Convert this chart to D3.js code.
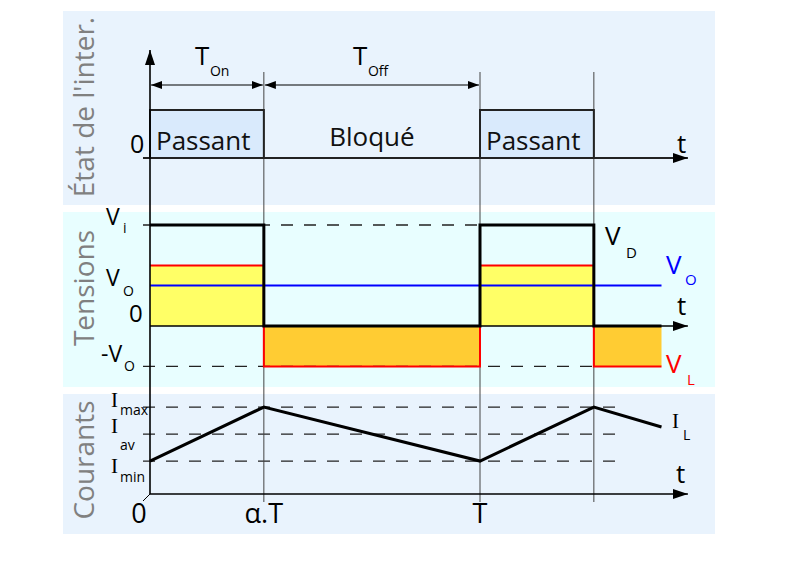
<!DOCTYPE html>
<html><head><meta charset="utf-8">
<script src="https://cdn.jsdelivr.net/npm/d3@7"></script>
<style>body{margin:0;background:#fff}svg{display:block}</style>
</head><body><svg id="c" width="800" height="566" font-family="'Open Sans', sans-serif"></svg>
<script>
// ---- data ----
const panelTitles = ["État de l'inter.", "Tensions", "Courants"];
const alpha = 0.345;
const switchTimes = [0, 0.345, 1, 1.345, 1.55];
const switchState = [1, 0, 1, 0];
const stateLabels = ["Passant", "Bloqué", "Passant", ""];
const gridTimes = [0.345, 1, 1.345];
const vdValues = [1, 0, 1, 0];
const vlValues = [0.6, -0.4, 0.6, -0.4];
const voValue = 0.4;
const viValue = 1;
const ilTimes = [0, 0.345, 1, 1.345, 1.55];
const ilValues = [1.22, 3.22, 1.22, 3.22, 2.48];
const currentLevelNames = ["max", "av", "min"];
const currentLevels = [3.22, 2.22, 1.22];
const xTickValues = [0, 0.345, 1];
const xTickLabels = ["0", "α.T", "T"];

// ---- scales ----
const x = d3.scaleLinear().domain([0, 1]).range([150, 480]);
const ySw = d3.scaleLinear().domain([0, 1]).range([158, 110]);
const yV = d3.scaleLinear().domain([0, 1]).range([326, 225]);
const yI = d3.scaleLinear().domain([0, 4]).range([494, 386]);
const tEnd = switchTimes[switchTimes.length - 1];
const axisEnd = 1.63;

const svg = d3.select("#c");
const defs = svg.append("defs");
function mk(id, w, h) {
  defs.append("marker").attr("id", id).attr("viewBox", `0 0 ${w} ${h}`)
    .attr("refX", w).attr("refY", h / 2).attr("markerWidth", w).attr("markerHeight", h)
    .attr("markerUnits", "userSpaceOnUse").attr("orient", "auto-start-reverse")
    .append("path").attr("d", `M0,0L${w},${h/2}L0,${h}Z`).attr("fill", "#000");
}
mk("big", 15, 10);
mk("small", 11, 8);

// panels
const panels = [
  {y0: 11, y1: 205, fill: "#e9f3fd", yc: 107},
  {y0: 212, y1: 387, fill: "#e8feff", yc: 288},
  {y0: 394, y1: 534, fill: "#e9f3fd", yc: 460}
];
svg.selectAll("rect.panel").data(panels).join("rect").attr("class", "panel")
  .attr("x", 63).attr("width", 652).attr("y", d => d.y0).attr("height", d => d.y1 - d.y0)
  .attr("fill", d => d.fill);
svg.selectAll("text.ptitle").data(panels).join("text").attr("class", "ptitle")
  .attr("transform", d => `translate(94,${d.yc}) rotate(-90)`)
  .attr("text-anchor", "middle").attr("font-size", 28).attr("fill", "#808080")
  .text((d, i) => panelTitles[i]);

const segs = switchState.map((s, i) => ({t0: switchTimes[i], t1: switchTimes[i + 1], s, vd: vdValues[i], vl: vlValues[i], label: stateLabels[i]}));

// ---- voltage fills ----
svg.selectAll("rect.vl").data(segs).join("rect").attr("class", "vl")
  .attr("x", d => x(d.t0)).attr("width", d => x(d.t1) - x(d.t0))
  .attr("y", d => Math.min(yV(d.vl), yV(0))).attr("height", d => Math.abs(yV(d.vl) - yV(0)))
  .attr("fill", d => d.vl > 0 ? "#ffff66" : "#ffcc33");

// dashed lines
const dash = "12,11";
const dashCol = "#222";
const dw = 1.3;
svg.append("line").attr("x1", x(0) - 7).attr("x2", x(1)).attr("y1", yV(viValue)).attr("y2", yV(viValue))
  .attr("stroke", dashCol).attr("stroke-width", dw).attr("stroke-dasharray", dash);
svg.append("line").attr("x1", x(0) - 7).attr("x2", x(1 + alpha)).attr("y1", yV(-voValue)).attr("y2", yV(-voValue))
  .attr("stroke", dashCol).attr("stroke-width", dw).attr("stroke-dasharray", dash);
svg.selectAll("line.il").data(currentLevels).join("line").attr("class", "il")
  .attr("x1", x(0) - 7).attr("x2", 622).attr("y1", d => yI(d)).attr("y2", d => yI(d))
  .attr("stroke", dashCol).attr("stroke-width", dw).attr("stroke-dasharray", dash);

// grid verticals
svg.selectAll("line.grid").data(gridTimes).join("line").attr("class", "grid")
  .attr("x1", d => x(d)).attr("x2", d => x(d)).attr("y1", 72).attr("y2", 502)
  .attr("stroke", "#444").attr("stroke-width", 1);

// ---- switch state ----
svg.selectAll("rect.sw").data(segs.filter(d => d.s === 1)).join("rect").attr("class", "sw")
  .attr("x", d => x(d.t0)).attr("width", d => x(d.t1) - x(d.t0))
  .attr("y", ySw(1)).attr("height", ySw(0) - ySw(1))
  .attr("fill", "#d9eafc").attr("stroke", "#222").attr("stroke-width", 2);
svg.append("line").attr("x1", x(0) - 7).attr("x2", x(axisEnd)).attr("y1", ySw(0)).attr("y2", ySw(0))
  .attr("stroke", "#222").attr("stroke-width", 2).attr("marker-end", "url(#big)");
svg.selectAll("text.st").data(segs).join("text").attr("class", "st")
  .attr("x", d => d.s ? x(d.t0) + 6 : (x(d.t0) + x(d.t1)) / 2)
  .attr("y", d => d.s ? 150 : 146)
  .attr("text-anchor", d => d.s ? "start" : "middle")
  .attr("font-size", 26).attr("fill", "#111").text(d => d.label);

// T_on / T_off arrows
const spans = [{a: 0, b: alpha, sub: "On"}, {a: alpha, b: 1, sub: "Off"}];
svg.selectAll("line.span").data(spans).join("line").attr("class", "span")
  .attr("x1", d => x(d.a) + 1).attr("x2", d => x(d.b) - 1).attr("y1", 85).attr("y2", 85)
  .attr("stroke", "#000").attr("stroke-width", 1.2)
  .attr("marker-start", "url(#small)").attr("marker-end", "url(#small)");
spans.forEach(d => {
  const cx = (x(d.a) + x(d.b)) / 2;
  svg.append("text").attr("x", cx - 7 - (d.sub === "Off" ? 12 : 5)).attr("y", 65).attr("font-size", 26).text("T");
  svg.append("text").attr("x", cx + 3 - (d.sub === "Off" ? 7 : 0)).attr("y", 76).attr("font-size", 14).text(d.sub);
});

// ---- voltages ----
svg.append("line").attr("x1", x(0)).attr("x2", x(tEnd)).attr("y1", yV(voValue)).attr("y2", yV(voValue))
  .attr("stroke", "#0000ff").attr("stroke-width", 2);
const step = d3.line().curve(d3.curveStepAfter).x(d => x(d[0])).y(d => yV(d[1]));
const vlPts = segs.map(d => [d.t0, d.vl]).concat([[tEnd, vlValues[vlValues.length - 1]]]);
svg.append("path").attr("d", step(vlPts)).attr("fill", "none").attr("stroke", "#ff0000").attr("stroke-width", 2);
svg.append("line").attr("x1", x(0)).attr("x2", x(axisEnd)).attr("y1", yV(0)).attr("y2", yV(0))
  .attr("stroke", "#000").attr("stroke-width", 1.3).attr("marker-end", "url(#big)");
const vdPts = segs.map(d => [d.t0, d.vd]).concat([[tEnd, vdValues[vdValues.length - 1]]]);
svg.append("path").attr("d", step(vdPts)).attr("fill", "none").attr("stroke", "#000").attr("stroke-width", 3);

// ---- current ----
svg.append("path").attr("d", d3.line().x((d, i) => x(ilTimes[i])).y(d => yI(d))(ilValues))
  .attr("fill", "none").attr("stroke", "#000").attr("stroke-width", 3);
svg.append("line").attr("x1", x(0)).attr("x2", x(axisEnd)).attr("y1", yI(0)).attr("y2", yI(0))
  .attr("stroke", "#000").attr("stroke-width", 1.3).attr("marker-end", "url(#big)");
svg.append("line").attr("x1", x(0) - 7).attr("x2", x(0)).attr("y1", yI(0) + 7).attr("y2", yI(0))
  .attr("stroke", "#000").attr("stroke-width", 1);

// vertical axis
svg.append("line").attr("x1", x(0)).attr("x2", x(0)).attr("y1", yI(0)).attr("y2", 50)
  .attr("stroke", "#000").attr("stroke-width", 1.6).attr("marker-end", "url(#big)");

// ---- labels ----
function lab(xx, yy, main, sub, opt) {
  opt = opt || {};
  const fs = opt.fs || 23, col = opt.col || "#000";
  const t = svg.append("text").attr("x", xx).attr("y", yy).attr("font-size", fs).attr("fill", col).text(main);
  if (opt.ff) t.attr("font-family", opt.ff);
  if (sub) svg.append("text").attr("x", opt.sx).attr("y", opt.sy).attr("font-size", opt.sfs || 14).attr("fill", col).text(sub);
}
lab(130, 153, "0", null, {fs: 25});
lab(677, 153, "t", null, {fs: 26});
lab(106, 225, "V", "i", {sx: 123, sy: 233});
lab(106, 286, "V", "O", {sx: 123, sy: 296});
lab(129, 322, "0", null, {fs: 24});
lab(101, 362, "-V", "O", {sx: 124, sy: 371});
lab(605, 245, "V", "D", {fs: 26, sx: 626, sy: 258, sfs: 15});
lab(666, 274, "V", "O", {fs: 26, col: "#0000ff", sx: 685, sy: 285, sfs: 15});
lab(677, 315, "t", null, {fs: 26});
lab(666, 373, "V", "L", {fs: 26, col: "#ff0000", sx: 687, sy: 385, sfs: 15});
const iPos = [{y: 407, sy: 415}, {y: 433, sy: 450}, {y: 473, sy: 482}];
currentLevelNames.forEach((n, i) => lab(111, iPos[i].y, "I", n, {ff: "'Liberation Serif', serif", fs: 21, sx: 120, sy: iPos[i].sy}));
lab(672, 428, "I", "L", {ff: "'Liberation Serif', serif", fs: 21, sx: 683, sy: 440});
lab(676, 483, "t", null, {fs: 26});
svg.selectAll("text.xt").data(xTickValues).join("text").attr("class", "xt")
  .attr("x", d => x(d) + (d === 0 ? -11 : 0)).attr("y", 523).attr("text-anchor", "middle")
  .attr("font-size", 27).text((d, i) => xTickLabels[i]);
</script></body></html>
